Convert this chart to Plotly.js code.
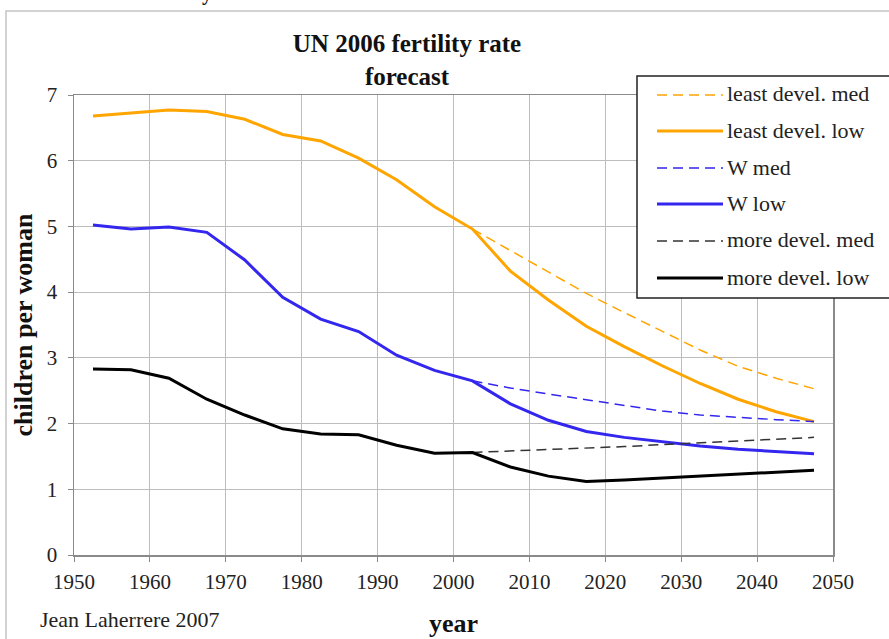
<!DOCTYPE html>
<html>
<head>
<meta charset="utf-8">
<script src="https://cdn.plot.ly/plotly-3.0.1.min.js"></script>
<style>html,body{margin:0;padding:0;background:#fff;}#chart{width:889px;height:639px;}</style>
</head>
<body>
<div id="chart"></div>
<script>
// x values (mid-points of UN 5-year periods)
var yearsAll = [1952.5, 1957.5, 1962.5, 1967.5, 1972.5, 1977.5, 1982.5, 1987.5, 1992.5, 1997.5,
                2002.5, 2007.5, 2012.5, 2017.5, 2022.5, 2027.5, 2032.5, 2037.5, 2042.5, 2047.5];
var yearsFc = [2002.5, 2007.5, 2012.5, 2017.5, 2022.5, 2027.5, 2032.5, 2037.5, 2042.5, 2047.5];

// low variants: history + low forecast
var leastLow = [6.68, 6.72, 6.77, 6.75, 6.63, 6.40, 6.30, 6.04, 5.71, 5.30,
                4.96, 4.32, 3.88, 3.48, 3.17, 2.88, 2.61, 2.37, 2.18, 2.03];
var worldLow = [5.02, 4.96, 4.99, 4.91, 4.49, 3.92, 3.59, 3.40, 3.04, 2.81,
                2.65, 2.30, 2.05, 1.88, 1.79, 1.72, 1.66, 1.61, 1.57, 1.54];
var moreLow  = [2.83, 2.82, 2.69, 2.37, 2.13, 1.92, 1.84, 1.83, 1.67, 1.55,
                1.56, 1.34, 1.20, 1.12, 1.14, 1.17, 1.21, 1.24, 1.27, 1.29];
// medium variants (forecast only)
var leastMed = [4.96, 4.63, 4.31, 3.98, 3.69, 3.40, 3.12, 2.87, 2.69, 2.53];
var worldMed = [2.65, 2.54, 2.45, 2.36, 2.27, 2.19, 2.13, 2.09, 2.06, 2.03];
var moreMed  = [1.56, 1.58, 1.60, 1.62, 1.65, 1.68, 1.71, 1.74, 1.77, 1.79];

var seriesNames = ["least devel. med", "least devel. low", "W med", "W low", "more devel. med", "more devel. low"];
var xTickVals = [1950, 1960, 1970, 1980, 1990, 2000, 2010, 2020, 2030, 2040, 2050];
var yTickVals = [0, 1, 2, 3, 4, 5, 6, 7];

var ORANGE = "#FFA500", BLUE = "#3326EE", BLACK = "#000000", DGRAY = "#333333";
var styles = [
  {color: ORANGE, width: 1.5, dash: "10px,6px"},
  {color: ORANGE, width: 3, dash: "solid"},
  {color: BLUE, width: 1.5, dash: "10px,6px"},
  {color: BLUE, width: 3, dash: "solid"},
  {color: DGRAY, width: 1.5, dash: "10px,6px"},
  {color: BLACK, width: 3, dash: "solid"}
];
var xs = [yearsFc, yearsAll, yearsFc, yearsAll, yearsFc, yearsAll];
var ys = [leastMed, leastLow, worldMed, worldLow, moreMed, moreLow];

var traces = [];
for (var i = 0; i < 6; i++) {
  traces.push({
    type: "scatter", mode: "lines", name: seriesNames[i],
    x: xs[i], y: ys[i],
    line: {color: styles[i].color, width: styles[i].width, dash: styles[i].dash},
    hoverinfo: "skip", showlegend: false
  });
}

var serif = "Liberation Serif";

// plot area geometry helpers for the hand-drawn legend (paper fractions)
var L = 74, R = 833, T = 95, B = 555;
function px2x(px) { return (px - L) / (R - L); }
function py2y(py) { return (B - py) / (B - T); }

var shapes = [
  // outer chart frame
  {type: "rect", xref: "paper", yref: "paper", x0: px2x(6), x1: px2x(900), y0: py2y(650), y1: py2y(11),
   line: {color: "#c4c4c4", width: 1.5}, fillcolor: "rgba(0,0,0,0)", layer: "below"},
  // legend box
  {type: "rect", xref: "paper", yref: "paper", x0: px2x(637), x1: px2x(895), y0: py2y(298), y1: py2y(76),
   line: {color: "#222222", width: 1.5}, fillcolor: "#ffffff", layer: "above"}
];
var annotations = [];
var legendY = [95, 131, 168, 204, 241, 278];
for (var k = 0; k < 6; k++) {
  shapes.push({type: "line", xref: "paper", yref: "paper",
    x0: px2x(657), x1: px2x(723), y0: py2y(legendY[k]), y1: py2y(legendY[k]),
    line: {color: styles[k].color, width: styles[k].width, dash: styles[k].dash}, layer: "above"});
  annotations.push({xref: "paper", yref: "paper", x: px2x(725), y: py2y(legendY[k] - 1),
    xanchor: "left", yanchor: "middle", showarrow: false, text: seriesNames[k],
    font: {family: serif, size: 22, color: "#222"}});
}
annotations.push({xref: "paper", yref: "paper", x: px2x(38), y: py2y(619), xanchor: "left", yanchor: "middle",
  showarrow: false, text: "Jean Laherrere 2007", font: {family: serif, size: 22, color: "#222"}});
annotations.push({xref: "paper", yref: "paper", x: px2x(207), y: py2y(7), xanchor: "center", yanchor: "bottom",
  showarrow: false, text: "<b>y</b>", font: {family: serif, size: 20, color: "#111"}});

var layout = {
  width: 889, height: 639,
  margin: {l: L, r: 889 - R, t: T, b: 639 - B, pad: 0},
  paper_bgcolor: "#ffffff", plot_bgcolor: "#ffffff",
  showlegend: false,
  title: {text: "<b>UN 2006 fertility rate<br>forecast</b>", xref: "container", yref: "container",
          x: 407 / 889, xanchor: "center", y: 1 - 52 / 639, yanchor: "top",
          font: {family: serif, size: 25, color: "#111"}},
  xaxis: {range: [1950, 2050], tickvals: xTickVals, ticktext: xTickVals.map(String),
          showgrid: true, gridcolor: "#bdbdbd", gridwidth: 1,
          showline: true, linecolor: "#8a8a8a", linewidth: 1.5, mirror: true,
          ticks: "outside", ticklen: 5, tickcolor: "#8a8a8a", zeroline: false,
          tickfont: {family: serif, size: 21, color: "#222"}, ticklabelstandoff: 2,
          title: {text: "<b>year</b>", font: {family: serif, size: 26, color: "#111"}, standoff: 21},
          automargin: false, fixedrange: true},
  yaxis: {range: [0, 7], tickvals: yTickVals, ticktext: yTickVals.map(String),
          showgrid: true, gridcolor: "#bdbdbd", gridwidth: 1,
          showline: true, linecolor: "#8a8a8a", linewidth: 1.5, mirror: true,
          ticks: "outside", ticklen: 5, tickcolor: "#8a8a8a", zeroline: false,
          tickfont: {family: serif, size: 21, color: "#222"}, ticklabelstandoff: 6,
          title: {text: "<b>children per woman</b>", font: {family: serif, size: 26, color: "#111"}, standoff: 6},
          automargin: false, fixedrange: true},
  shapes: shapes,
  annotations: annotations
};

Plotly.newPlot("chart", traces, layout, {staticPlot: true, displayModeBar: false});
</script>
</body>
</html>
